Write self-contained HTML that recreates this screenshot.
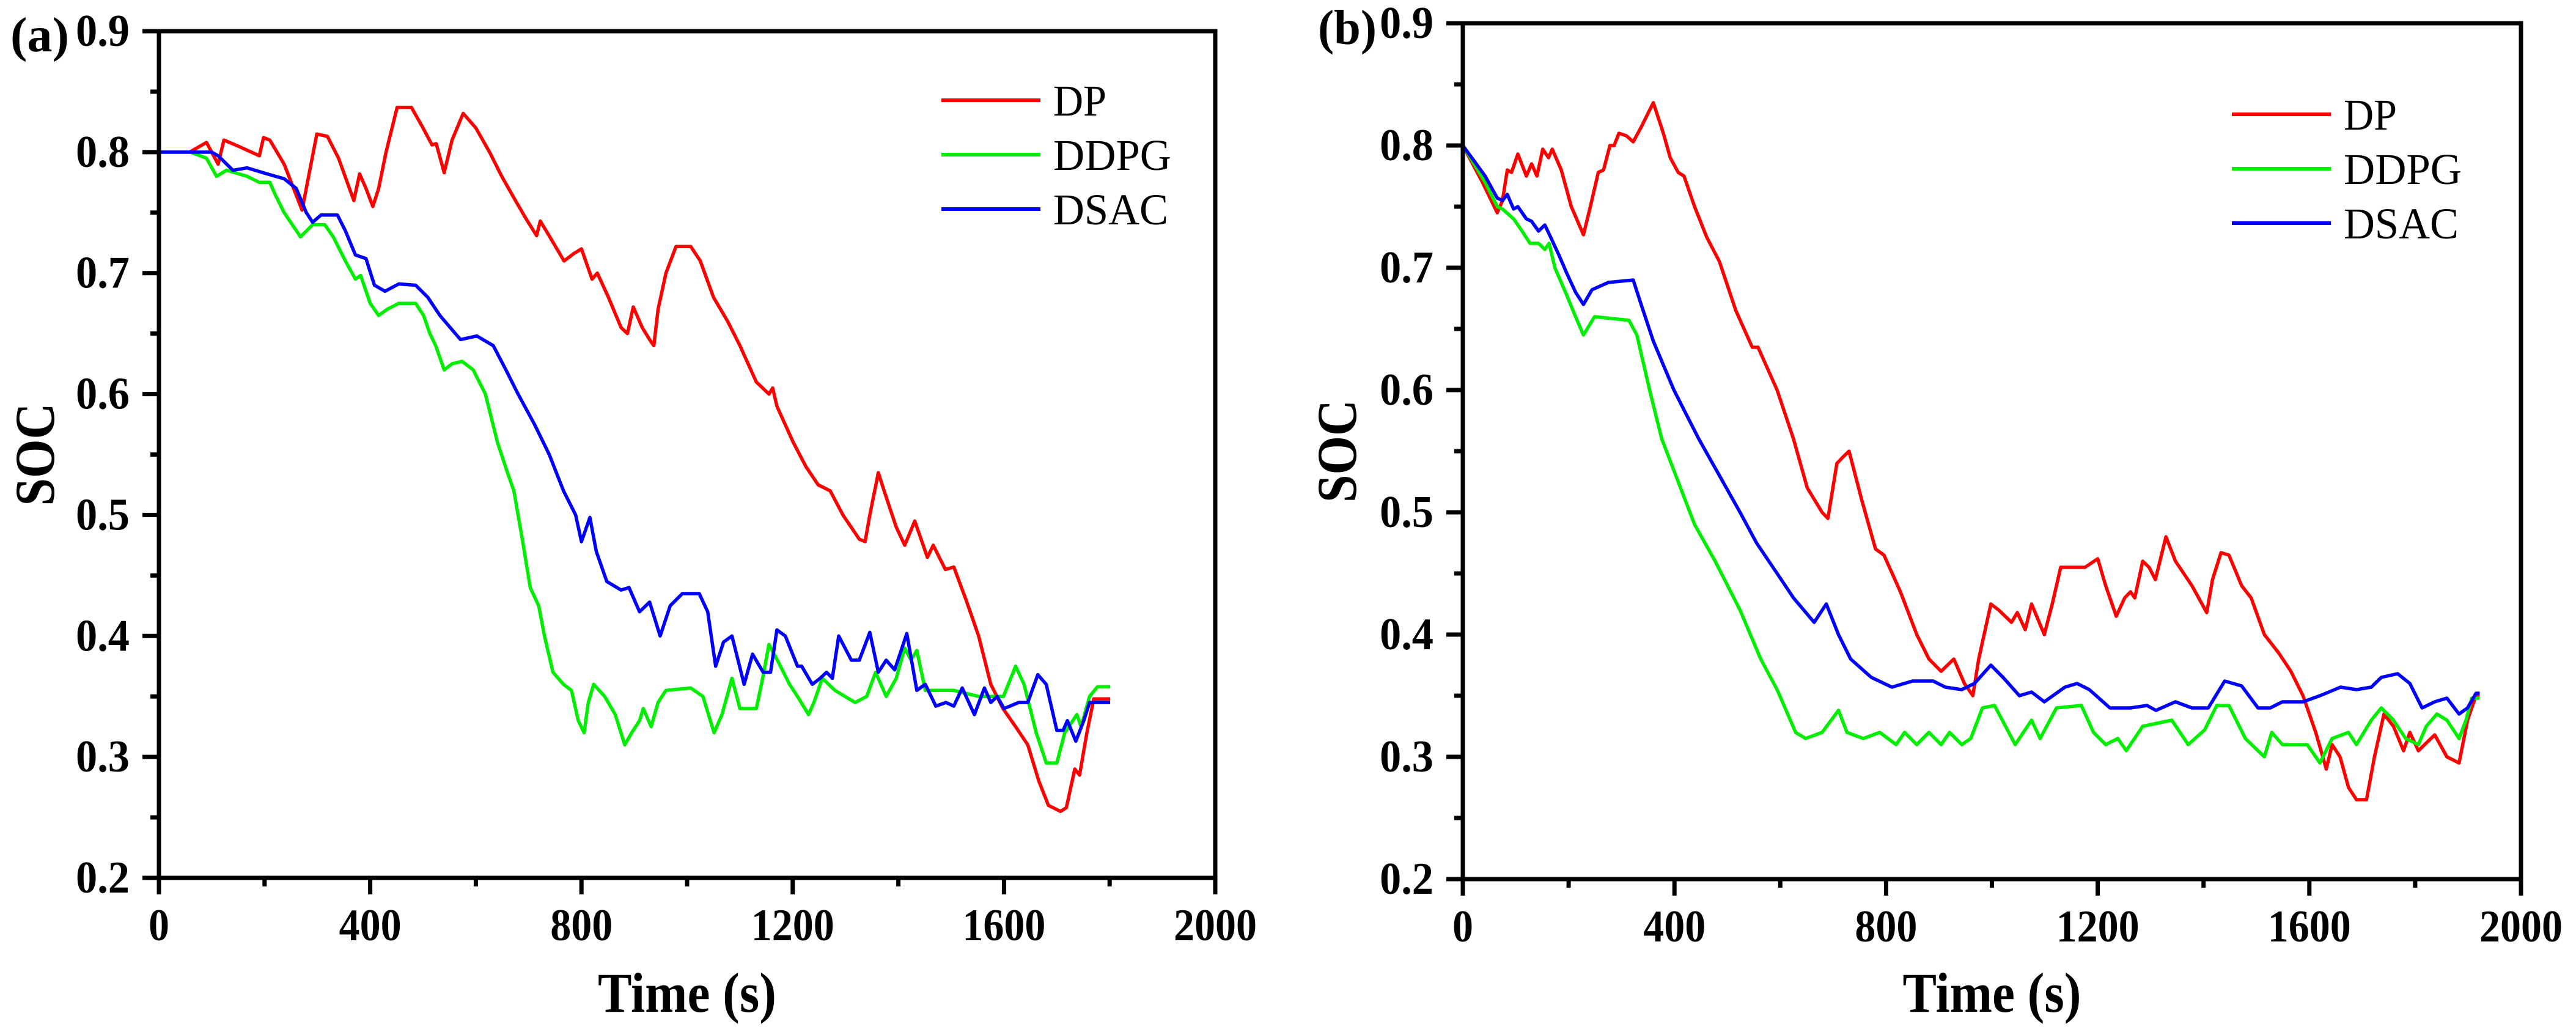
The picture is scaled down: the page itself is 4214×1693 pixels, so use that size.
<!DOCTYPE html>
<html><head><meta charset="utf-8">
<style>
html,body{margin:0;padding:0;background:#fff;}
svg{display:block;}
text{font-family:"Liberation Serif","Times New Roman",serif;}
</style></head>
<body>
<svg id="chart" xmlns="http://www.w3.org/2000/svg" width="4214" height="1693" viewBox="0 0 4214 1693">
<rect width="4214" height="1693" fill="#fff"/>
</svg>
<script>
// ---------- Panel (a) data ----------
const aDpT = [0,58,90,112,123,150,190,198,210,237,255,271,299,319,340,369,380,392,405,416,430,451,478,500,517,525,540,555,576,600,626,649,675,695,715,722,740,767,785,800,820,830,851,875,887,898,915,929,937,945,960,979,1007,1025,1050,1077,1100,1131,1155,1162,1170,1201,1225,1248,1271,1295,1326,1337,1346,1362,1373,1396,1412,1431,1443,1455,1466,1489,1505,1528,1552,1575,1598,1622,1645,1666,1684,1707,1718,1734,1743,1757,1770,1801];
const aDpV = [0.80,0.80,0.808,0.79,0.81,0.805,0.797,0.812,0.81,0.79,0.77,0.752,0.815,0.813,0.795,0.76,0.782,0.77,0.755,0.77,0.80,0.837,0.837,0.82,0.806,0.807,0.783,0.81,0.832,0.82,0.80,0.78,0.76,0.745,0.731,0.743,0.73,0.71,0.716,0.72,0.695,0.70,0.68,0.655,0.65,0.672,0.655,0.645,0.64,0.67,0.70,0.722,0.722,0.71,0.68,0.66,0.64,0.61,0.60,0.605,0.59,0.56,0.54,0.525,0.52,0.50,0.48,0.478,0.50,0.535,0.52,0.49,0.475,0.495,0.48,0.465,0.475,0.455,0.457,0.43,0.40,0.36,0.34,0.325,0.31,0.28,0.26,0.255,0.258,0.29,0.285,0.32,0.348,0.348];
const aDdpgT = [0,60,90,109,128,167,190,210,220,237,268,291,314,330,353,372,382,400,416,432,454,486,501,513,524,540,555,574,595,618,641,660,672,688,703,719,730,746,766,781,794,805,813,823,844,864,882,895,910,917,932,945,960,1007,1030,1051,1066,1085,1100,1131,1143,1155,1171,1194,1209,1230,1240,1256,1280,1318,1340,1357,1377,1396,1412,1424,1435,1451,1505,1552,1599,1622,1638,1661,1680,1700,1715,1738,1746,1762,1777,1801];
const aDdpgV = [0.80,0.80,0.795,0.78,0.785,0.78,0.775,0.775,0.765,0.75,0.73,0.74,0.74,0.73,0.71,0.695,0.698,0.675,0.665,0.67,0.675,0.675,0.665,0.65,0.64,0.62,0.625,0.627,0.62,0.60,0.56,0.535,0.52,0.48,0.44,0.425,0.40,0.37,0.36,0.355,0.33,0.32,0.345,0.36,0.35,0.335,0.31,0.32,0.33,0.34,0.325,0.345,0.355,0.357,0.35,0.32,0.335,0.365,0.34,0.34,0.365,0.393,0.38,0.36,0.35,0.335,0.345,0.365,0.355,0.345,0.35,0.37,0.35,0.365,0.39,0.38,0.388,0.355,0.355,0.35,0.35,0.375,0.36,0.32,0.295,0.295,0.32,0.335,0.325,0.35,0.358,0.358];
const aDsacT = [0,100,112,140,167,205,237,260,279,291,307,338,353,372,392,408,428,454,486,509,532,571,602,633,657,680,711,739,766,789,800,816,828,848,875,890,910,929,949,968,991,1023,1039,1054,1069,1085,1108,1124,1144,1158,1170,1186,1209,1217,1237,1252,1264,1275,1287,1311,1326,1346,1362,1377,1393,1416,1435,1451,1471,1490,1505,1521,1544,1563,1575,1587,1600,1628,1645,1664,1680,1700,1712,1720,1736,1751,1762,1801];
const aDsacV = [0.80,0.80,0.797,0.785,0.787,0.782,0.778,0.77,0.75,0.742,0.748,0.748,0.735,0.715,0.712,0.69,0.685,0.691,0.69,0.68,0.665,0.645,0.648,0.64,0.62,0.60,0.575,0.55,0.52,0.50,0.478,0.498,0.47,0.445,0.438,0.44,0.42,0.428,0.40,0.425,0.435,0.435,0.42,0.375,0.395,0.40,0.36,0.385,0.37,0.37,0.405,0.40,0.375,0.375,0.36,0.365,0.37,0.365,0.40,0.38,0.38,0.403,0.37,0.38,0.372,0.402,0.355,0.36,0.342,0.345,0.342,0.357,0.335,0.357,0.345,0.35,0.34,0.345,0.345,0.368,0.36,0.322,0.322,0.33,0.313,0.33,0.345,0.345];

// ---------- Panel (b) data ----------
const bDpT = [0,37,65,75,84,92,104,120,130,140,151,162,169,186,205,228,241,256,266,278,286,295,309,322,337,360,379,392,407,418,438,461,485,516,547,558,594,625,651,679,690,707,718,730,754,780,796,827,858,881,904,928,948,964,975,998,1013,1037,1048,1063,1075,1099,1114,1130,1176,1200,1215,1235,1251,1262,1270,1285,1297,1309,1329,1347,1378,1406,1417,1433,1448,1472,1490,1515,1542,1565,1588,1612,1632,1643,1658,1674,1689,1708,1723,1741,1759,1778,1790,1806,1837,1860,1883,1899,1915,1922];
const bDpV = [0.80,0.77,0.745,0.755,0.78,0.778,0.793,0.775,0.785,0.775,0.797,0.79,0.797,0.78,0.75,0.727,0.75,0.778,0.78,0.80,0.80,0.81,0.808,0.803,0.815,0.835,0.81,0.79,0.778,0.775,0.75,0.725,0.705,0.665,0.635,0.635,0.60,0.56,0.52,0.50,0.495,0.54,0.545,0.55,0.51,0.47,0.465,0.435,0.40,0.38,0.37,0.38,0.36,0.35,0.38,0.425,0.42,0.41,0.418,0.404,0.425,0.40,0.425,0.455,0.455,0.462,0.44,0.415,0.43,0.435,0.43,0.46,0.455,0.445,0.48,0.46,0.44,0.418,0.445,0.467,0.465,0.44,0.43,0.40,0.385,0.37,0.35,0.32,0.29,0.31,0.30,0.275,0.265,0.265,0.30,0.335,0.325,0.305,0.32,0.305,0.318,0.30,0.295,0.33,0.35,0.35];
const bDdpgT = [0,42,65,75,96,112,127,143,155,163,174,194,213,228,249,314,329,353,376,407,438,477,524,563,594,629,648,679,710,726,757,788,819,835,858,881,904,920,943,960,982,1005,1044,1075,1091,1122,1169,1192,1215,1238,1254,1285,1340,1371,1402,1425,1448,1479,1515,1529,1549,1596,1620,1643,1674,1689,1717,1736,1759,1782,1806,1821,1841,1860,1883,1896,1907,1922];
const bDdpgV = [0.80,0.77,0.75,0.748,0.74,0.73,0.72,0.72,0.715,0.72,0.70,0.68,0.66,0.645,0.66,0.657,0.645,0.60,0.56,0.525,0.49,0.46,0.42,0.38,0.355,0.32,0.315,0.32,0.338,0.32,0.315,0.32,0.31,0.32,0.31,0.32,0.31,0.32,0.31,0.315,0.34,0.342,0.31,0.33,0.315,0.34,0.342,0.32,0.31,0.315,0.305,0.325,0.33,0.31,0.322,0.342,0.342,0.315,0.30,0.32,0.31,0.31,0.295,0.315,0.32,0.31,0.33,0.34,0.33,0.315,0.31,0.325,0.335,0.33,0.315,0.33,0.348,0.348];
const bDsacT = [0,42,65,75,84,96,104,120,130,143,155,166,182,197,213,228,244,275,322,337,360,399,446,485,524,555,594,625,664,687,710,733,772,811,850,889,912,943,967,998,1021,1052,1075,1099,1138,1161,1184,1223,1262,1293,1310,1347,1378,1409,1440,1472,1503,1526,1549,1588,1620,1659,1689,1717,1736,1767,1790,1813,1837,1860,1883,1899,1915,1922];
const bDsacV = [0.80,0.775,0.757,0.755,0.76,0.748,0.75,0.74,0.738,0.73,0.735,0.725,0.71,0.695,0.68,0.67,0.682,0.688,0.69,0.67,0.64,0.60,0.56,0.53,0.50,0.475,0.45,0.43,0.41,0.425,0.40,0.38,0.365,0.357,0.362,0.362,0.357,0.355,0.36,0.375,0.365,0.35,0.353,0.345,0.357,0.36,0.355,0.34,0.34,0.342,0.338,0.345,0.34,0.34,0.362,0.358,0.34,0.34,0.345,0.345,0.35,0.357,0.355,0.357,0.365,0.368,0.36,0.34,0.345,0.348,0.335,0.34,0.352,0.352];

const xTicks = [0,400,800,1200,1600,2000];
const xTickLabels = ["0","400","800","1200","1600","2000"];
const yTicks = [0.2,0.3,0.4,0.5,0.6,0.7,0.8,0.9];
const yTickLabels = ["0.2","0.3","0.4","0.5","0.6","0.7","0.8","0.9"];
const seriesNames = ["DP","DDPG","DSAC"];
const seriesColors = ["#ff0000","#00ee00","#0000ff"];

const NS = "http://www.w3.org/2000/svg";
const svg = document.getElementById('chart');
function mk(tag, attrs, parent){
  const e = document.createElementNS(NS, tag);
  for (const k in attrs) e.setAttribute(k, attrs[k]);
  (parent||svg).appendChild(e);
  return e;
}

function panel(cfg){
  const g = mk('g', {});
  
  
  const L=cfg.L, R=cfg.R, T=cfg.T, B=cfg.B;
  const sx = t => L + (t/2000)*(R-L);
  const sy = v => B - ((v-0.2)/0.7)*(B-T);

  // series
  cfg.series.forEach((s,i)=>{
    let d='';
    s.t.forEach((t,j)=>{ d += (j?'L':'M') + sx(t).toFixed(1) + ',' + sy(s.v[j]).toFixed(1); });
    const p = mk('path', {d:d, fill:'none', stroke:seriesColors[i], 'stroke-width':5.5, 'stroke-linejoin':'round'}, g);
    
    
  });

  // frame
  const fr = mk('rect', {x:L, y:T, width:R-L, height:B-T, fill:'none', stroke:'#000', 'stroke-width':7}, g);
  
  

  // x ticks
  for (let t=0; t<=2000; t+=200){
    const major = (t%400===0);
    mk('line', {x1:sx(t), x2:sx(t), y1:B, y2:B+(major?27:14), stroke:'#000', 'stroke-width':7}, g);
  }
  xTicks.forEach((t,i)=>{
    const tx = mk('text', {x:sx(t), y:B+102, 'text-anchor':'middle', 'font-size':74, 'font-weight':'bold', textLength:xTickLabels[i].length*34, lengthAdjust:'spacingAndGlyphs'}, g);
    tx.textContent = xTickLabels[i];
    
    
  });
  // y ticks
  for (let k=0; k<=14; k++){
    const v = 0.2 + k*0.05;
    const major = (k%2===0);
    mk('line', {x1:L, x2:L-(major?27:14), y1:sy(v), y2:sy(v), stroke:'#000', 'stroke-width':7}, g);
  }
  yTicks.forEach((v,i)=>{
    const tx = mk('text', {x:L-48, y:sy(v)+24, 'text-anchor':'end', 'font-size':74, 'font-weight':'bold', textLength:88, lengthAdjust:'spacingAndGlyphs'}, g);
    tx.textContent = yTickLabels[i];
    
    
  });

  // axis titles
  const xt = mk('text', {x:(L+R)/2, y:1655, 'text-anchor':'middle', 'font-size':92, 'font-weight':'bold', textLength:292, lengthAdjust:'spacingAndGlyphs'}, g);
  xt.textContent = 'Time (s)';
  
  
  const yt = mk('text', {x:0, y:0, 'text-anchor':'middle', 'font-size':92, 'font-weight':'bold', textLength:168, lengthAdjust:'spacingAndGlyphs', transform:'translate('+cfg.yTitleX+','+((T+B)/2)+') rotate(-90)'}, g);
  yt.textContent = 'SOC';
  
  

  // panel label
  const pl = mk('text', {x:cfg.labelX, y:cfg.labelY, 'font-size':80, 'font-weight':'bold', textLength:96, lengthAdjust:'spacingAndGlyphs'}, g);
  pl.textContent = cfg.label;
  
  

  // legend
  const lens = [87,193,188];
  seriesNames.forEach((n,i)=>{
    const y = cfg.legY + i*89;
    const entry = mk('g', {}, g);
    
    
    mk('line', {x1:cfg.legX, x2:cfg.legX+162, y1:y, y2:y, stroke:seriesColors[i], 'stroke-width':6}, entry);
    const tx = mk('text', {x:cfg.legX+183, y:y+25, 'font-size':72, textLength:lens[i], lengthAdjust:'spacingAndGlyphs'}, entry);
    tx.textContent = n;
  });
}

panel({id:'panel-a', L:260, R:1988, T:51, B:1436, yTitleX:88, label:'(a)', labelX:17, labelY:84, legX:1540, legY:164,
  series:[{t:aDpT,v:aDpV},{t:aDdpgT,v:aDdpgV},{t:aDsacT,v:aDsacV}]});
panel({id:'panel-b', L:2393, R:4124, T:38, B:1438, yTitleX:2218, label:'(b)', labelX:2156, labelY:72, legX:3651, legY:187,
  series:[{t:bDpT,v:bDpV},{t:bDdpgT,v:bDdpgV},{t:bDsacT,v:bDsacV}]});
</script>
</body></html>
